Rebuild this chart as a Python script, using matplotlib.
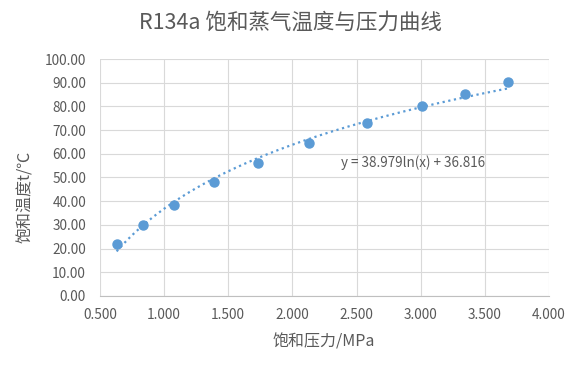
import matplotlib.pyplot as plt
import numpy as np

plt.rcParams['font.family'] = ['Noto Sans CJK SC', 'DejaVu Sans']

###### DATA
pressure_mpa = [0.630, 0.838, 1.077, 1.386, 1.734, 2.132, 2.579, 3.010, 3.348, 3.678]
temp_c = [21.8, 30.1, 38.5, 48.0, 56.0, 64.6, 73.0, 80.0, 85.1, 90.2]
fit_a, fit_b = 38.979, 36.816   # Excel log trendline: y = a ln(x) + b
x_ticks = [0.5, 1.0, 1.5, 2.0, 2.5, 3.0, 3.5, 4.0]
y_ticks = [0, 10, 20, 30, 40, 50, 60, 70, 80, 90, 100]

BLUE = '#5B9BD5'
TEXT = '#595959'

fig = plt.figure(figsize=(5.81, 3.69), dpi=100)
ax = fig.add_axes([0.172, 0.198, 0.773, 0.642])

# trend line across data range
xs = np.linspace(min(pressure_mpa), max(pressure_mpa), 200)
ax.plot(xs, fit_a * np.log(xs) + fit_b, linestyle=(0, (1, 1.6)), color=BLUE,
        linewidth=1.6, zorder=2)
ax.plot(pressure_mpa, temp_c, 'o', color=BLUE, markersize=6.5, zorder=3)

ax.set_xlim(0.5, 4.0)
ax.set_ylim(0, 100)
ax.set_xticks(x_ticks)
ax.set_yticks(y_ticks)
ax.set_xticklabels([f'{v:.3f}' for v in x_ticks])
ax.set_yticklabels([f'{v:.2f}' for v in y_ticks])
ax.grid(True, color='#D9D9D9', linewidth=0.8)
ax.set_axisbelow(True)
for side in ['top', 'right', 'left']:
    ax.spines[side].set_visible(False)
ax.spines['bottom'].set_color('#BFBFBF')
ax.tick_params(length=0, labelsize=9.8, colors=TEXT)
ax.tick_params(axis='x', pad=9)
ax.tick_params(axis='y', pad=10)

ax.text(2.94, 56.1, 'y = 38.979ln(x) + 36.816', ha='center', va='center',
        fontsize=9.7, color=TEXT)

ax.set_xlabel('饱和压力/MPa', fontsize=11.5, color=TEXT)
ax.set_ylabel('饱和温度t/℃', fontsize=11.5, color=TEXT)
ax.xaxis.set_label_coords(0.5, -0.2, transform=ax.transAxes)
fig.text(26 / 581, 1 - 197 / 369, '饱和温度t/℃', rotation=90, ha='center',
         va='center', fontsize=11.5, color=TEXT)
ax.yaxis.label.set_visible(False)
ax.xaxis.label.set_visible(False)
fig.text(324 / 581, 1 - 342 / 369, '饱和压力/MPa', ha='center', va='center',
         fontsize=11.5, color=TEXT)
fig.text(0.5, 1 - 23 / 369, 'R134a 饱和蒸气温度与压力曲线', ha='center',
         va='center', fontsize=15.5, color=TEXT)

fig.savefig('out.png', dpi=100, facecolor='white')
